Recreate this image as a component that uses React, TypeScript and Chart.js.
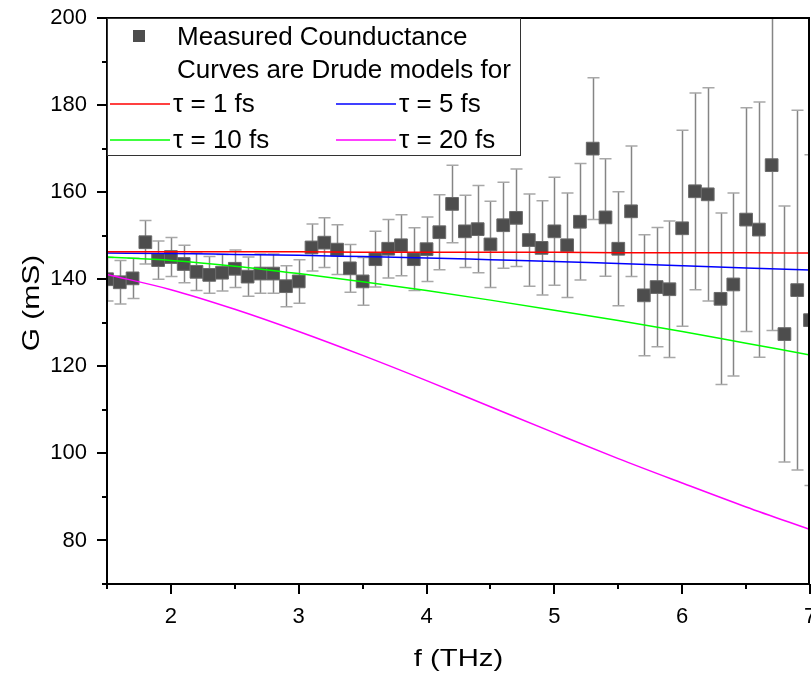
import React, { useEffect, useRef } from 'react';
import { Chart, registerables } from 'chart.js';

Chart.register(...registerables);

const FONT = '"Liberation Sans", Arial, sans-serif';

// Measured conductance (THz frequency, mS)
const freqs = [
  1.5, 1.6, 1.7, 1.8, 1.9, 2.0, 2.1, 2.2, 2.3, 2.4, 2.5, 2.6, 2.7, 2.8, 2.9, 3.0,
  3.1, 3.2, 3.3, 3.4, 3.5, 3.6, 3.7, 3.8, 3.9, 4.0, 4.1, 4.2, 4.3, 4.4, 4.5, 4.6,
  4.7, 4.8, 4.9, 5.0, 5.1, 5.2, 5.3, 5.4, 5.5, 5.6, 5.7, 5.8, 5.9, 6.0, 6.1, 6.2,
  6.3, 6.4, 6.5, 6.6, 6.7, 6.8, 6.9, 7.0,
];
const conductance = [
  140.0, 139.3, 140.2, 148.5, 144.4, 145.1, 143.5, 141.7, 141.0, 141.5, 142.4, 140.6, 141.3, 141.3, 138.4, 139.5,
  147.3, 148.4, 146.8, 142.5, 139.5, 144.6, 147.0, 147.8, 144.6, 146.9, 150.8, 157.3, 151.0, 151.5, 148.0, 152.4,
  154.1, 149.0, 147.2, 151.0, 147.8, 153.2, 170.0, 154.2, 147.0, 155.6, 136.3, 138.2, 137.7, 151.7, 160.2, 159.5,
  135.5, 138.8, 153.7, 151.4, 166.2, 127.4, 137.5, 130.6,
];
const conductanceErr = [
  5.0, 5.0, 4.6, 5.0, 4.4, 4.5, 4.3, 4.3, 4.2, 4.2, 4.3, 4.5, 4.5, 4.5, 4.7, 5.0,
  5.4, 5.7, 5.7, 5.5, 5.5, 6.4, 6.7, 7.0, 7.2, 7.4, 8.6, 8.9, 8.3, 10.0, 9.9, 9.9,
  11.2, 10.6, 10.8, 12.4, 12.0, 13.4, 16.3, 13.5, 13.1, 15.0, 13.9, 13.7, 15.7, 22.5, 22.6, 24.5,
  19.7, 21.0, 25.7, 29.3, 38.0, 29.4, 41.3, 38.0,
];

// Drude model curves
const modelFreqs = [1.5, 2.0, 2.5, 3.0, 3.5, 4.0, 4.5, 5.0, 5.5, 6.0, 6.5, 7.0];
const tau1 = [146.3, 146.3, 146.3, 146.3, 146.2, 146.2, 146.2, 146.2, 146.1, 146.1, 146.1, 146.0];
const tau5 = [146.0, 145.9, 145.7, 145.5, 145.2, 144.9, 144.5, 144.1, 143.6, 143.1, 142.6, 142.1];
const tau10 = [145.1, 144.3, 143.0, 141.3, 139.4, 137.4, 135.2, 132.9, 130.5, 128.0, 125.3, 122.6];
const tau20 = [141.1, 137.6, 133.1, 128.0, 122.5, 116.7, 110.7, 104.7, 98.8, 93.2, 87.7, 82.5];

const xMajorTicks = [2, 3, 4, 5, 6, 7];
const yMajorTicks = [80, 100, 120, 140, 160, 180, 200];

const xTitle = 'f (THz)';
const yTitle = 'G (mS)';
const legendTitle = 'Measured Counductance';
const legendSubtitle = 'Curves are Drude models for';
const curveLabels = ['τ = 1 fs', 'τ = 5 fs', 'τ = 10 fs', 'τ = 20 fs'];
const curveColors = ['#ff0000', '#0000ff', '#00ff00', '#ff00ff'];
const pointColor = '#4d4d4d';

const errorBarPlugin = {
  id: 'errorBars',
  beforeDatasetsDraw(chart: any) {
    const { ctx, chartArea, scales } = chart;
    const x = scales.x;
    const y = scales.y;
    ctx.save();
    ctx.beginPath();
    ctx.rect(chartArea.left, chartArea.top, chartArea.right - chartArea.left, chartArea.bottom - chartArea.top);
    ctx.clip();
    ctx.lineWidth = 1.5;
    freqs.forEach((f, i) => {
      const px = Math.round(x.getPixelForValue(f)) + 0.5;
      const top = y.getPixelForValue(conductance[i] + conductanceErr[i]);
      const bot = y.getPixelForValue(conductance[i] - conductanceErr[i]);
      ctx.strokeStyle = '#858585';
      ctx.beginPath();
      ctx.moveTo(px, top);
      ctx.lineTo(px, bot);
      ctx.stroke();
      ctx.strokeStyle = '#a8a8a8';
      ctx.beginPath();
      ctx.moveTo(px - 6, top);
      ctx.lineTo(px + 6, top);
      ctx.moveTo(px - 6, bot);
      ctx.lineTo(px + 6, bot);
      ctx.stroke();
    });
    ctx.restore();
  },
};

const framePlugin = {
  id: 'frame',
  afterDraw(chart: any) {
    const { ctx, chartArea, scales } = chart;
    const left = Math.round(chartArea.left);
    const right = Math.round(chartArea.right);
    const top = Math.round(chartArea.top);
    const bottom = Math.round(chartArea.bottom);
    ctx.save();
    ctx.fillStyle = '#000';
    ctx.fillRect(left - 1, top - 1, right - left + 1, 2);
    ctx.fillRect(left - 1, bottom - 1, right - left + 1, 2);
    ctx.fillRect(left - 1, top - 1, 2, bottom - top + 2);
    ctx.fillRect(right - 2, top - 1, 2, bottom - top + 2);
    scales.y.ticks.forEach((t: any) => {
      const py = Math.round(scales.y.getPixelForValue(t.value));
      const len = yMajorTicks.includes(t.value) ? 10 : 5;
      ctx.fillRect(left - len, py - 1, len, 2);
    });
    scales.x.ticks.forEach((t: any) => {
      const px = Math.round(scales.x.getPixelForValue(t.value));
      const len = xMajorTicks.includes(t.value) ? 10 : 5;
      ctx.fillRect(Math.min(px - 1, 809), bottom, 2, len);
    });
    ctx.restore();
  },
};

const legendPlugin = {
  id: 'customLegend',
  afterDraw(chart: any) {
    const { ctx, chartArea } = chart;
    const bx = Math.round(chartArea.left);
    const by = Math.round(chartArea.top);
    const bw = 413;
    const bh = 137;
    ctx.save();
    ctx.fillStyle = '#fff';
    ctx.fillRect(bx + 1, by + 1, bw, bh);
    ctx.strokeStyle = '#333';
    ctx.lineWidth = 1;
    ctx.strokeRect(bx + 0.5, by + 0.5, bw, bh);

    ctx.font = `26px ${FONT}`;
    ctx.textAlign = 'left';
    ctx.textBaseline = 'middle';

    ctx.fillStyle = pointColor;
    ctx.fillRect(bx + 26, by + 12, 12, 12);
    ctx.fillStyle = '#000';
    ctx.fillText(legendTitle, bx + 70, by + 20);
    ctx.fillText(legendSubtitle, bx + 70, by + 53);

    const rows = [by + 86, by + 86, by + 122, by + 122];
    const cols = [bx + 3, bx + 229, bx + 3, bx + 229];
    curveLabels.forEach((lab, i) => {
      ctx.strokeStyle = curveColors[i];
      ctx.lineWidth = 1.5;
      ctx.beginPath();
      ctx.moveTo(cols[i], rows[i]);
      ctx.lineTo(cols[i] + 60, rows[i]);
      ctx.stroke();
      ctx.fillText(lab, cols[i] + 63, rows[i] + 1);
    });
    ctx.restore();
  },
};

const titlePlugin = {
  id: 'axisTitles',
  afterDraw(chart: any) {
    const { ctx, chartArea } = chart;
    ctx.save();
    ctx.font = `24px ${FONT}`;
    ctx.fillStyle = '#000';
    ctx.textAlign = 'center';
    ctx.textBaseline = 'middle';
    ctx.save();
    ctx.translate((chartArea.left + chartArea.right) / 2, 659);
    ctx.scale(1.22, 1);
    ctx.fillText(xTitle, 0, 0);
    ctx.restore();
    ctx.save();
    ctx.translate(32, (chartArea.top + chartArea.bottom) / 2 + 2);
    ctx.rotate(-Math.PI / 2);
    ctx.scale(1.25, 1);
    ctx.fillText(yTitle, 0, 0);
    ctx.restore();
    ctx.restore();
  },
};

export default function App() {
  const canvasRef = useRef<HTMLCanvasElement | null>(null);

  useEffect(() => {
    if (!canvasRef.current) return;
    const toXY = (xs: number[], ys: number[]) => xs.map((v, i) => ({ x: v, y: ys[i] }));
    const curves = [tau1, tau5, tau10, tau20];
    const chart = new Chart(canvasRef.current, {
      type: 'scatter',
      data: {
        datasets: [
          ...curves.map((c, i) => ({
            label: curveLabels[i],
            data: toXY(modelFreqs, c),
            showLine: true,
            borderColor: curveColors[i],
            backgroundColor: curveColors[i],
            borderWidth: 1.5,
            pointRadius: 0,
            cubicInterpolationMode: 'monotone' as const,
            order: 0,
          })),
          {
            label: legendTitle,
            data: toXY(freqs, conductance),
            showLine: false,
            pointStyle: 'rect' as const,
            pointRadius: 9,
            backgroundColor: pointColor,
            borderColor: '#6a6a6a',
            borderWidth: 1,
            clip: 0,
            order: 1,
          },
        ],
      },
      options: {
        responsive: false,
        animation: false,
        layout: { autoPadding: false, padding: { top: 18, right: 1, left: 0, bottom: 0 } },
        plugins: { legend: { display: false }, tooltip: { enabled: false } },
        scales: {
          x: {
            type: 'linear',
            min: 1.5,
            max: 7,
            grid: { display: false, drawTicks: false, tickLength: 0 },
            border: { display: false },
            ticks: {
              stepSize: 0.5,
              autoSkip: false,
              maxRotation: 0,
              padding: 20,
              color: '#000',
              font: { family: FONT, size: 22 },
              callback: (v: any) => (xMajorTicks.includes(Number(v)) ? String(v) : ''),
            },
            afterFit: (scale: any) => {
              scale.height = 90;
              scale.paddingLeft = 0;
              scale.paddingRight = 0;
            },
          },
          y: {
            type: 'linear',
            min: 70,
            max: 200,
            grid: { display: false, drawTicks: false, tickLength: 0 },
            border: { display: false },
            ticks: {
              stepSize: 10,
              autoSkip: false,
              padding: 20,
              color: '#000',
              font: { family: FONT, size: 22 },
              callback: (v: any) => (yMajorTicks.includes(Number(v)) ? String(v) : ''),
            },
            afterFit: (scale: any) => {
              scale.width = 107;
              scale.paddingTop = 0;
              scale.paddingBottom = 0;
            },
          },
        },
      },
      plugins: [errorBarPlugin, framePlugin, legendPlugin, titlePlugin],
    } as any);
    return () => chart.destroy();
  }, []);

  return (
    <div style={{ position: 'absolute', left: 0, top: 0, width: 811, height: 674, background: '#fff' }}>
      <canvas ref={canvasRef} width={811} height={674} style={{ display: 'block' }} />
    </div>
  );
}
